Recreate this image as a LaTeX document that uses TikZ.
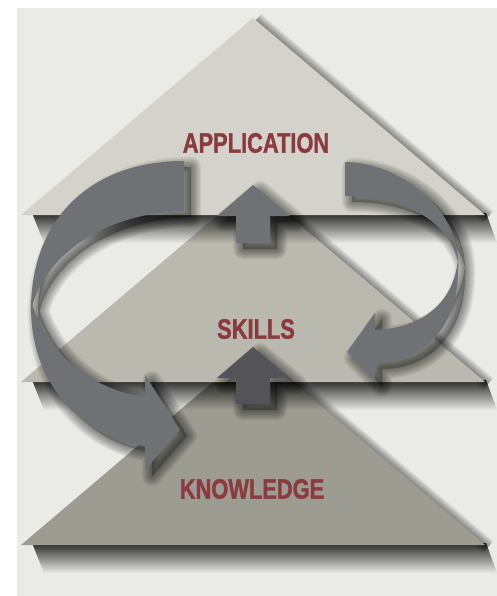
\documentclass[tikz,border=0pt]{standalone}
\usepackage{fontspec}
\newfontfamily\labelfont{Liberation Sans}[UprightFont={* Bold}, FakeStretch=0.78, FakeBold=1.2]
\usetikzlibrary{fadings}
\definecolor{bgc}{HTML}{EAEBE6}
\definecolor{appc}{HTML}{D3D3CB}
\definecolor{sklc}{HTML}{B9B9AF}
\definecolor{knoc}{HTML}{9C9C93}
\definecolor{arrc}{HTML}{707174}
\definecolor{darrc}{HTML}{545458}
\definecolor{lblc}{HTML}{8B3A3E}
\tikzset{
  lbl/.style={font=\labelfont\fontsize{28}{30}\selectfont, text=lblc, inner sep=0pt},
  shadefill/.style={black, fill opacity=#1},
  shadestroke/.style={black, draw opacity=#1, line join=round},
  baseshadow/.style={black, fill opacity=0.82, path fading=south}
}
\newcommand\tripath[1]{(253,#1) -- ++(232,197) -- ++(-464,0) -- cycle}
\newcommand\trishade[1]{%
  \pgfmathsetmacro\bb{#1+197}%
  \foreach \w in {2,4,...,16}
    \draw[shadestroke=0.06, line width=\w pt] (256,#1+2) -- (488,\bb+2);
  \fill[baseshadow] (32,\bb-2) -- (486,\bb-2) -- (497,\bb+28) -- (44,\bb+28) -- cycle;
}
\newcommand\arrshade[1]{%
  \begin{scope}[shift={(7,6)}]
    \fill[shadefill=0.25] #1;
    \foreach \w in {2.5,5,...,20}
      \draw[shadestroke=0.06, line width=\w pt] #1;
  \end{scope}}
\newcommand\uparrowA{(253,185) -- (290,216) -- (270,216) -- (270,243) -- (236,243) -- (236,216) -- (217,216) -- cycle}
\newcommand\uparrowB{(253,347) -- (290,378) -- (270,378) -- (270,404) -- (236,404) -- (236,378) -- (217,378) -- cycle}
\newcommand\leftcurve{(184,161) .. controls (90,161) and (30,220) .. (31,312)
  .. controls (40,260) and (100,213) .. (184,211) -- cycle
  (31,300) .. controls (28,390) and (90,440) .. (145,446)
  -- (145,470) -- (180,430) -- (145,375) -- (145,397)
  .. controls (90,390) and (45,350) .. (31,300) -- cycle}
\newcommand\rightcurve{(345,162) .. controls (395,162) and (458,205) .. (458,262)
  .. controls (450,225) and (410,196) .. (345,196) -- cycle
  (458,258) .. controls (462,330) and (420,363) .. (375,363)
  -- (375,380) -- (347,352) -- (375,313) -- (375,330)
  .. controls (425,328) and (455,300) .. (458,258) -- cycle}
\begin{document}
\begin{tikzpicture}[x=1pt,y=-1pt]
\useasboundingbox (0,0) rectangle (497,596);
\fill[white] (0,0) rectangle (497,596);
\fill[bgc] (17,8) rectangle (497,596);
% bottom triangle
\trishade{348}
\fill[knoc] \tripath{348};
\node[lbl] (kno) at (252,489) {KNOWLEDGE};
% middle triangle
\trishade{185}
\fill[sklc] \tripath{185};
\node[lbl] (skl) at (256,329) {SKILLS};
% lower up arrow
\arrshade{\uparrowB}
\fill[darrc] \uparrowB;
% top triangle
\trishade{18}
\fill[appc] \tripath{18};
\node[lbl] (app) at (256,143) {APPLICATION};
% upper up arrow
\arrshade{\uparrowA}
\fill[arrc] \uparrowA;
% curved arrows
\arrshade{\leftcurve}
\arrshade{\rightcurve}
\fill[arrc] \leftcurve;
\fill[arrc] \rightcurve;
\end{tikzpicture}
\end{document}
